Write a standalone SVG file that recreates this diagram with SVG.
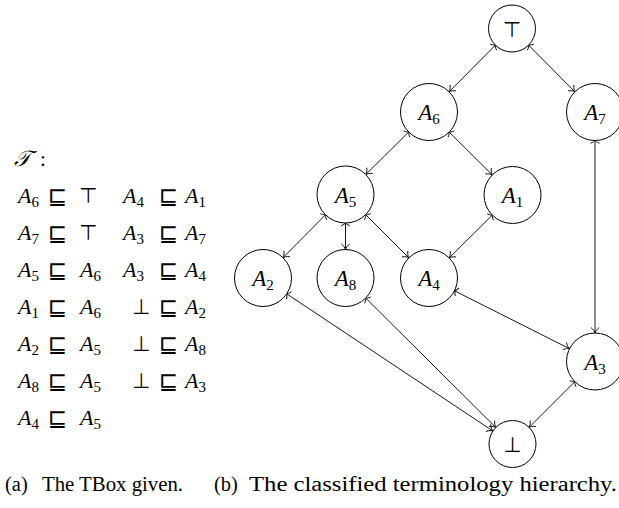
<svg xmlns="http://www.w3.org/2000/svg" width="619" height="508" viewBox="0 0 619 508">
<style>
.n{fill:#fff;stroke:#000;stroke-width:1}
.e{fill:none;stroke:#000;stroke-width:0.9;marker-start:url(#tail);marker-end:url(#tip)}
.m{font-style:italic;font-size:22px;fill:#000}
.nl{font-style:italic;font-size:23px;fill:#000}
.s{font-style:normal;font-size:15px}
.sym{font-family:'DejaVu Sans',sans-serif;font-size:21px;fill:#000}
.sq{font-family:'DejaVu Sans',sans-serif;font-size:23px;fill:#000}
.cap{font-size:20.5px;fill:#000}
</style>
<defs>
<marker id="tip" markerUnits="userSpaceOnUse" markerWidth="14" markerHeight="14" viewBox="-7 -7 14 14" refX="0" refY="0" orient="auto">
<path d="M-5.5,-4.2 C-3.8,-1.6 -1.2,-0.4 0,0 C-1.2,0.4 -3.8,1.6 -5.5,4.2" fill="none" stroke="#000" stroke-width="0.9"/>
</marker>
<marker id="tail" markerUnits="userSpaceOnUse" markerWidth="14" markerHeight="14" viewBox="-7 -7 14 14" refX="0" refY="0" orient="auto-start-reverse">
<path d="M-2.8,-4.4 C-1.6,-1.6 -0.6,-0.4 0,0 C-0.6,0.4 -1.6,1.6 -2.8,4.4" fill="none" stroke="#000" stroke-width="0.9"/>
</marker>
</defs>

<g id="tbox" font-family="Liberation Serif, serif">
<text x="14" y="166" class="m" font-family="DejaVu Serif, serif">𝒯</text>
<text x="40" y="166" class="cap" style="font-size:21px">:</text>
<g id="row1"><text x="18" y="203" class="m">A<tspan class="s" dy="4">6</tspan></text><text x="48" y="204" class="sq">⊑</text><text x="79" y="203" class="sym">⊤</text>
<text x="123" y="203" class="m">A<tspan class="s" dy="4">4</tspan></text><text x="159" y="204" class="sq">⊑</text><text x="185" y="203" class="m">A<tspan class="s" dy="4">1</tspan></text></g>
<g id="row2"><text x="18" y="240" class="m">A<tspan class="s" dy="4">7</tspan></text><text x="48" y="241" class="sq">⊑</text><text x="79" y="240" class="sym">⊤</text>
<text x="123" y="240" class="m">A<tspan class="s" dy="4">3</tspan></text><text x="159" y="241" class="sq">⊑</text><text x="185" y="240" class="m">A<tspan class="s" dy="4">7</tspan></text></g>
<g id="row3"><text x="18" y="277" class="m">A<tspan class="s" dy="4">5</tspan></text><text x="48" y="278" class="sq">⊑</text><text x="80" y="277" class="m">A<tspan class="s" dy="4">6</tspan></text>
<text x="123" y="277" class="m">A<tspan class="s" dy="4">3</tspan></text><text x="159" y="278" class="sq">⊑</text><text x="185" y="277" class="m">A<tspan class="s" dy="4">4</tspan></text></g>
<g id="row4"><text x="18" y="314" class="m">A<tspan class="s" dy="4">1</tspan></text><text x="48" y="315" class="sq">⊑</text><text x="80" y="314" class="m">A<tspan class="s" dy="4">6</tspan></text>
<text x="132" y="314" class="sym">⊥</text><text x="159" y="315" class="sq">⊑</text><text x="185" y="314" class="m">A<tspan class="s" dy="4">2</tspan></text></g>
<g id="row5"><text x="18" y="351" class="m">A<tspan class="s" dy="4">2</tspan></text><text x="48" y="352" class="sq">⊑</text><text x="80" y="351" class="m">A<tspan class="s" dy="4">5</tspan></text>
<text x="132" y="351" class="sym">⊥</text><text x="159" y="352" class="sq">⊑</text><text x="185" y="351" class="m">A<tspan class="s" dy="4">8</tspan></text></g>
<g id="row6"><text x="18" y="388" class="m">A<tspan class="s" dy="4">8</tspan></text><text x="48" y="389" class="sq">⊑</text><text x="80" y="388" class="m">A<tspan class="s" dy="4">5</tspan></text>
<text x="132" y="388" class="sym">⊥</text><text x="159" y="389" class="sq">⊑</text><text x="185" y="388" class="m">A<tspan class="s" dy="4">3</tspan></text></g>
<g id="row7"><text x="18" y="425" class="m">A<tspan class="s" dy="4">4</tspan></text><text x="48" y="426" class="sq">⊑</text><text x="80" y="425" class="m">A<tspan class="s" dy="4">5</tspan></text></g>
</g>

<g id="connectors">
<path class="e" d="M495.4,45.2 L449.1,91.8"/>
<path class="e" d="M528.6,45.2 L574.9,91.8"/>
<path class="e" d="M408.7,132 L365.8,174.5"/>
<path class="e" d="M449.2,132.1 L492.3,174.9"/>
<path class="e" d="M595,140.5 L595,333"/>
<path class="e" d="M325.5,214.8 L283,257.7"/>
<path class="e" d="M345.5,223 L345.5,249.5"/>
<path class="e" d="M365.7,214.7 L408.8,257.8"/>
<path class="e" d="M492.3,215.1 L449.2,257.9"/>
<path class="e" d="M454.5,290.8 L569.5,348.7"/>
<path class="e" d="M286.7,293.8 L492.9,431"/>
<path class="e" d="M365.7,298.1 L495.8,427.4"/>
<path class="e" d="M574.8,381.7 L529.1,427.4"/>
</g>

<g id="nodes" font-family="Liberation Serif, serif">
<g id="top"><circle class="n" cx="512" cy="28.5" r="23.5"/><text x="512" y="36.5" class="sym" text-anchor="middle">⊤</text></g>
<g id="A6"><circle class="n" cx="429" cy="112" r="28.5"/><text x="429" y="120" class="nl" text-anchor="middle">A<tspan class="s" dy="4">6</tspan></text></g>
<g id="A7"><circle class="n" cx="595" cy="112" r="28.5"/><text x="595" y="120" class="nl" text-anchor="middle">A<tspan class="s" dy="4">7</tspan></text></g>
<g id="A5"><circle class="n" cx="345.5" cy="194.5" r="28.5"/><text x="345.5" y="202.5" class="nl" text-anchor="middle">A<tspan class="s" dy="4">5</tspan></text></g>
<g id="A1"><circle class="n" cx="512.5" cy="195" r="28.5"/><text x="512.5" y="203" class="nl" text-anchor="middle">A<tspan class="s" dy="4">1</tspan></text></g>
<g id="A2"><circle class="n" cx="263" cy="278" r="28.5"/><text x="263" y="286" class="nl" text-anchor="middle">A<tspan class="s" dy="4">2</tspan></text></g>
<g id="A8"><circle class="n" cx="345.5" cy="278" r="28.5"/><text x="345.5" y="286" class="nl" text-anchor="middle">A<tspan class="s" dy="4">8</tspan></text></g>
<g id="A4"><circle class="n" cx="429" cy="278" r="28.5"/><text x="429" y="286" class="nl" text-anchor="middle">A<tspan class="s" dy="4">4</tspan></text></g>
<g id="A3"><circle class="n" cx="595" cy="361.5" r="28.5"/><text x="595" y="369.5" class="nl" text-anchor="middle">A<tspan class="s" dy="4">3</tspan></text></g>
<g id="bottom"><circle class="n" cx="512.5" cy="444" r="23.5"/><text x="512.5" y="452" class="sym" text-anchor="middle">⊥</text></g>
</g>

<g id="captions" font-family="Liberation Serif, serif">
<text x="5" y="491" class="cap">(a)</text>
<text x="42" y="491" class="cap" textLength="141" lengthAdjust="spacingAndGlyphs">The TBox given.</text>
<text x="214" y="491" class="cap">(b)</text>
<text x="249" y="491" class="cap" textLength="368" lengthAdjust="spacingAndGlyphs">The classified terminology hierarchy.</text>
</g>
</svg>
